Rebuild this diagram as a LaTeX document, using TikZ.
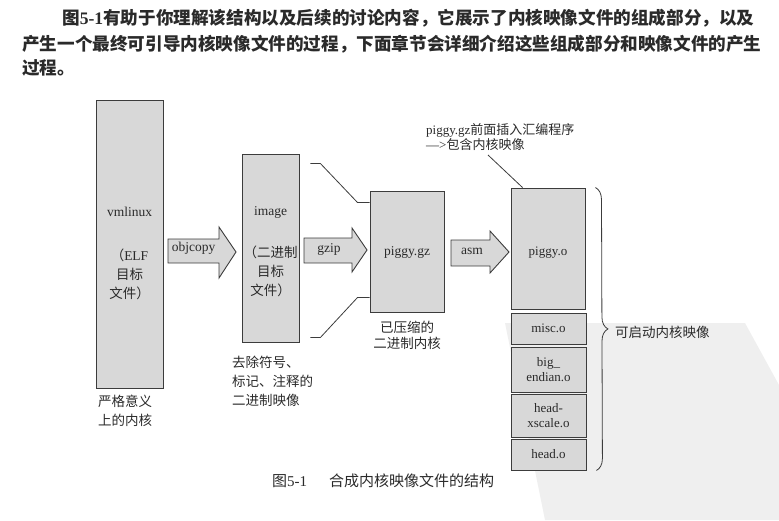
\documentclass[tikz,border=0pt]{standalone}
\usepackage{fontspec}
\setmainfont{Liberation Serif}
\newfontfamily\cjk{Noto Sans CJK SC}
\usetikzlibrary{calc,decorations.pathreplacing}
\XeTeXlinebreaklocale "zh"
\XeTeXlinebreakskip=0pt plus 2pt

\definecolor{boxfill}{HTML}{D8D8D8}
\definecolor{ink}{HTML}{3C3C3C}
\definecolor{txt}{HTML}{2A2A2A}
\definecolor{bandgray}{HTML}{EFEFEF}

\newcommand\zh[1]{{\cjk #1}}

\tikzset{
  filebox/.style={draw=ink, fill=boxfill, line width=0.9pt, inner sep=0pt},
  lbl/.style={text=txt, font=\fontsize{13.5}{19}\selectfont, inner sep=0pt},
  small/.style={text=txt, font=\fontsize{13}{15}\selectfont, inner sep=0pt, align=center},
  blockarrow/.style={draw=ink, fill=boxfill, line width=0.9pt, line join=miter},
  wire/.style={draw=ink, line width=0.8pt},
  para/.style={text=txt, font=\fontsize{17.6}{25}\selectfont\bfseries, inner sep=0pt, anchor=west},
}

\begin{document}
\begin{tikzpicture}[x=1pt,y=-1pt]
\useasboundingbox (0,0) rectangle (779,520);

% faint background band
\fill[bandgray] (505,323) -- (745,323) -- (779,385) -- (779,520) -- (545,520) -- cycle;

% introductory paragraph
\node[para] (p1) at (62,18) {\hbox to 690pt{\zh{\bfseries 图}5-1\zh{\bfseries 有助于你理解该结构以及后续的讨论内容，它展示了内核映像文件的组成部分，以及}}};
\node[para] (p2) at (22,44) {\hbox to 730pt{\zh{\bfseries 产生一个最终可引导内核映像文件的过程，下面章节会详细介绍这些组成部分和映像文件的产生}}};
\node[para] (p3) at (22,68) {\zh{\bfseries 过程。}};

% vmlinux
\node[filebox, minimum width=67pt, minimum height=288pt] (vmlinux) at (129.5,244) {};
\node[lbl] (vmname) at (129.5,212) {vmlinux};
\node[lbl, align=center] (vmdesc) at (129.5,274) {\zh{（}ELF\\\zh{目标}\\\zh{文件）}};
\node[lbl, align=left, anchor=north west] (vmnote) at (98,395) {\zh{严格意义}\\[0pt]\zh{上的内核}};

% objcopy arrow
\draw[blockarrow] (168,239) -- (219,239) -- (219,227) -- (236,252) -- (219,278) -- (219,263) -- (168,263) -- cycle;
\node[lbl] (objcopy) at (193.5,248) {objcopy};

% image
\node[filebox, minimum width=57pt, minimum height=188pt] (image) at (270.5,248) {};
\node[lbl] (imgname) at (270.5,212) {image};
\node[lbl, align=center] (imgdesc) at (270.5,271) {\zh{（二进制}\\\zh{目标}\\\zh{文件）}};
\node[lbl, align=left, anchor=north west] (imgnote) at (232,356) {\zh{去除符号、}\\\zh{标记、注释的}\\\zh{二进制映像}};

% gzip arrow
\draw[blockarrow] (304,238) -- (352,238) -- (352,228) -- (367,250) -- (352,272) -- (352,263) -- (304,263) -- cycle;
\node[lbl] (gzip) at (329,249) {gzip};

% piggy.gz
\node[filebox, minimum width=74pt, minimum height=121pt] (piggygz) at (407,251.5) {};
\node[lbl] (gzname) at (407,252) {piggy.gz};
\node[lbl, align=center] (gznote) at (407,335) {\zh{已压缩的}\\[-3pt]\zh{二进制内核}};

% funnel lines from image into piggy.gz
\coordinate (ft1) at ($(image.north east)+(11,10)$);
\coordinate (fb1) at ($(image.south east)+(11,-5)$);
\draw[wire] (ft1) -- ++(10,0) -- ($(piggygz.north west)+(-12,12)$) -- ($(piggygz.north west)+(0,12)$);
\draw[wire] (fb1) -- ++(10,0) -- ($(piggygz.south west)+(-12,-15)$) -- ($(piggygz.south west)+(0,-15)$);

% asm arrow
\draw[blockarrow] (451,240) -- (490,240) -- (490,231) -- (509,252) -- (490,273) -- (490,266) -- (451,266) -- cycle;
\node[lbl] (asm) at (472,251) {asm};

% bootable image stack
\node[filebox, minimum width=74pt, minimum height=121pt] (piggyo) at (548,248.5) {};
\node[small] (poname) at (548,253) {piggy.o};
\node[filebox, small, minimum width=75pt, minimum height=31pt] (misco) at (548.5,328.5) {misc.o};
\node[filebox, small, minimum width=75pt, minimum height=45pt] (bigendian) at (548.5,369.5) {big\_\\endian.o};
\node[filebox, small, minimum width=75pt, minimum height=43pt] (headxscale) at (548.5,415.5) {head-\\xscale.o};
\node[filebox, small, minimum width=75pt, minimum height=31pt] (heado) at (548.5,454.5) {head.o};

% note on piggy.o
\node[small, align=left, anchor=west] (ponote) at (426,137.5) {piggy.gz\zh{前面插入汇编程序}\\—>\zh{包含内核映像}};
\coordinate (notetail) at (488,155);
\draw[wire] (notetail) -- ($(piggyo.north west)+(12,0)$);

% brace over the whole stack
\draw[wire, decorate, decoration={brace, amplitude=12pt}]
  ($(piggyo.north east)+(10,0)$) -- ($(heado.south east)+(10,0)$);
\node[lbl, anchor=west] (boot) at (615,332) {\zh{可启动内核映像}};

% caption
\node[text=txt, font=\fontsize{15}{18}\selectfont, inner sep=0pt, anchor=west] (caption) at (272,481) {\zh{图}5-1\hspace{22pt}\zh{合成内核映像文件的结构}};
\end{tikzpicture}
\end{document}
